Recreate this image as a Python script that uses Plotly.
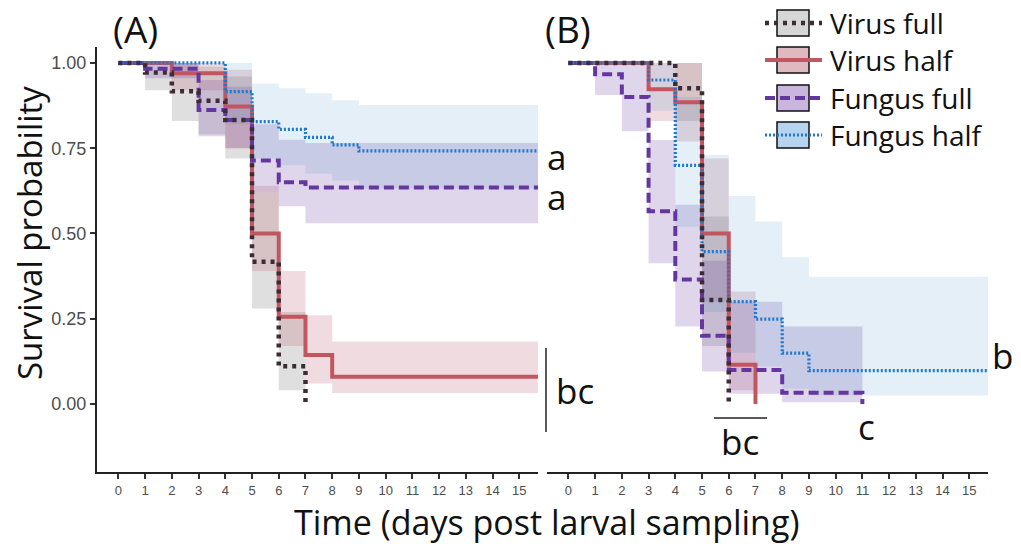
import plotly.graph_objects as go

# ---------------- data ----------------
DAYS = list(range(16))
Y_TICKS = [0, 0.25, 0.5, 0.75, 1.0]
Y_TICK_LABELS = ["0.00", "0.25", "0.50", "0.75", "1.00"]
X_MIN, X_MAX = -0.8, 15.7
Y_MIN, Y_MAX = -0.2, 1.048

GROUPS = ["Virus full", "Virus half", "Fungus full", "Fungus half"]

# Panel A
A_VF_T = [0, 1, 2, 3, 4, 5, 6]
A_VF_S = [1.0, 0.972, 0.917, 0.889, 0.833, 0.417, 0.111]
A_VF_LO = [1.0, 0.92, 0.83, 0.79, 0.72, 0.28, 0.04]
A_VF_HI = [1.0, 1.0, 1.0, 0.99, 0.96, 0.62, 0.27]
A_VF_END = 7

A_VH_T = [0, 2, 4, 5, 6, 7, 8]
A_VH_S = [1.0, 0.97, 0.872, 0.50, 0.256, 0.144, 0.08]
A_VH_LO = [1.0, 0.92, 0.75, 0.39, 0.17, 0.06, 0.032]
A_VH_HI = [1.0, 1.0, 0.98, 0.64, 0.39, 0.26, 0.183]
A_VH_END = None

A_FF_T = [0, 1, 3, 4, 5, 6, 7]
A_FF_S = [1.0, 0.983, 0.862, 0.833, 0.714, 0.65, 0.635]
A_FF_LO = [1.0, 0.955, 0.785, 0.75, 0.62, 0.58, 0.53]
A_FF_HI = [1.0, 1.0, 0.95, 0.93, 0.82, 0.775, 0.765]
A_FF_END = None

A_FH_T = [0, 4, 5, 6, 7, 8, 9]
A_FH_S = [1.0, 0.916, 0.828, 0.805, 0.782, 0.76, 0.742]
A_FH_LO = [1.0, 0.82, 0.72, 0.70, 0.675, 0.655, 0.632]
A_FH_HI = [1.0, 1.0, 0.94, 0.926, 0.911, 0.891, 0.877]
A_FH_END = None

# Panel B
B_VF_T = [0, 4, 5]
B_VF_S = [1.0, 0.926, 0.305]
B_VF_LO = [1.0, 0.83, 0.17]
B_VF_HI = [1.0, 1.0, 0.55]
B_VF_END = 6

B_VH_T = [0, 3, 4, 5, 6]
B_VH_S = [1.0, 0.923, 0.885, 0.50, 0.115]
B_VH_LO = [1.0, 0.83, 0.77, 0.30, 0.04]
B_VH_HI = [1.0, 1.0, 1.0, 0.72, 0.33]
B_VH_END = 7

B_FF_T = [0, 1, 2, 3, 4, 5, 6, 8]
B_FF_S = [1.0, 0.967, 0.90, 0.565, 0.365, 0.20, 0.10, 0.033]
B_FF_LO = [1.0, 0.906, 0.80, 0.413, 0.227, 0.095, 0.03, 0.005]
B_FF_HI = [1.0, 1.0, 1.0, 0.774, 0.584, 0.42, 0.30, 0.227]
B_FF_END = 11

B_FH_T = [0, 3, 4, 5, 6, 7, 8, 9]
B_FH_S = [1.0, 0.95, 0.70, 0.447, 0.30, 0.249, 0.149, 0.098]
B_FH_LO = [1.0, 0.86, 0.52, 0.27, 0.15, 0.11, 0.045, 0.025]
B_FH_HI = [1.0, 1.0, 0.90, 0.73, 0.61, 0.535, 0.43, 0.373]
B_FH_END = None

# significance letters
A_LETTERS = ["a", "a", "bc"]
B_LETTERS = ["b", "c", "bc"]

# ---------------- styles ----------------
LINE_COL = {
    "Virus full": "rgb(60,45,52)",
    "Virus half": "rgb(192,86,96)",
    "Fungus full": "rgb(100,55,160)",
    "Fungus half": "rgb(30,120,205)",
}
BAND_COL = {
    "Virus full": "rgba(100,95,97,0.20)",
    "Virus half": "rgba(180,80,100,0.20)",
    "Fungus full": "rgba(102,51,153,0.20)",
    "Fungus half": "rgba(30,120,200,0.12)",
}
LEG_FILL = {
    "Virus full": "#d6d6d6",
    "Virus half": "#e0b9c0",
    "Fungus full": "#c9b5dd",
    "Fungus half": "#b7d4ee",
}
DASH = {
    "Virus full": "4px,5px",
    "Virus half": "solid",
    "Fungus full": "10px,5px",
    "Fungus half": "2px,2px",
}
WIDTH = {"Virus full": 4.5, "Virus half": 4, "Fungus full": 4, "Fungus half": 3.2}

PANELS = {
    "A": {
        "Virus full": (A_VF_T, A_VF_S, A_VF_LO, A_VF_HI, A_VF_END),
        "Virus half": (A_VH_T, A_VH_S, A_VH_LO, A_VH_HI, A_VH_END),
        "Fungus full": (A_FF_T, A_FF_S, A_FF_LO, A_FF_HI, A_FF_END),
        "Fungus half": (A_FH_T, A_FH_S, A_FH_LO, A_FH_HI, A_FH_END),
    },
    "B": {
        "Virus full": (B_VF_T, B_VF_S, B_VF_LO, B_VF_HI, B_VF_END),
        "Virus half": (B_VH_T, B_VH_S, B_VH_LO, B_VH_HI, B_VH_END),
        "Fungus full": (B_FF_T, B_FF_S, B_FF_LO, B_FF_HI, B_FF_END),
        "Fungus half": (B_FH_T, B_FH_S, B_FH_LO, B_FH_HI, B_FH_END),
    },
}
AXES = {"A": ("x", "y"), "B": ("x2", "y2")}
DRAW_ORDER = ["Virus half", "Fungus full", "Fungus half", "Virus full"]

# page body offsets the figure by 8px; compensate
OFF = 8
W, H = 1021 - OFF, 544 - OFF


def px(x):
    return (x - OFF) / W


def py(y):
    return 1 - (y - OFF) / H


fig = go.Figure()

# bands
for p, series in PANELS.items():
    xa, ya = AXES[p]
    for g in GROUPS:
        T, S, LO, HI, END = series[g]
        end = END if END is not None else X_MAX
        xs = T + [end]
        fig.add_trace(go.Scatter(x=xs, y=HI + [HI[-1]], mode="lines", line=dict(width=0, shape="hv"),
                                 xaxis=xa, yaxis=ya, showlegend=False, hoverinfo="skip"))
        fig.add_trace(go.Scatter(x=xs, y=LO + [LO[-1]], mode="lines", line=dict(width=0, shape="hv"),
                                 fill="tonexty", fillcolor=BAND_COL[g],
                                 xaxis=xa, yaxis=ya, showlegend=False, hoverinfo="skip"))

# survival lines
for p, series in PANELS.items():
    xa, ya = AXES[p]
    for g in DRAW_ORDER:
        T, S, LO, HI, END = series[g]
        if END is not None:
            xs, ys = T + [END], S + [0.0]
        else:
            xs, ys = T + [X_MAX], S + [S[-1]]
        fig.add_trace(go.Scatter(x=xs, y=ys, mode="lines", name=g,
                                 line=dict(color=LINE_COL[g], width=WIDTH[g], dash=DASH[g], shape="hv"),
                                 xaxis=xa, yaxis=ya, showlegend=False))

XDOM_A = [px(97), px(538)]
XDOM_B = [px(547), px(988)]
YDOM = [py(472.2), py(46.6)]

tickfont = dict(family="Liberation Sans, Arial, sans-serif", size=13, color="#4d4d4d")
common_x = dict(range=[X_MIN, X_MAX], tickvals=DAYS, ticktext=[str(d) for d in DAYS],
                showline=True, linecolor="#222", linewidth=2, ticks="outside", ticklen=5,
                tickwidth=1.5, tickcolor="#333", showgrid=False, zeroline=False, tickfont=tickfont)

fig.update_layout(
    width=W, height=H, margin=dict(l=0, r=0, t=0, b=0),
    paper_bgcolor="white", plot_bgcolor="white", showlegend=False,
    xaxis=dict(domain=XDOM_A, anchor="y", **common_x),
    xaxis2=dict(domain=XDOM_B, anchor="y2", **common_x),
    yaxis=dict(domain=YDOM, anchor="x", range=[Y_MIN, Y_MAX], tickvals=Y_TICKS, ticktext=Y_TICK_LABELS,
               showline=True, linecolor="#222", linewidth=2, ticks="outside", ticklen=5, tickwidth=1.5,
               tickcolor="#333", showgrid=False, zeroline=False,
               tickfont=dict(family="Liberation Sans, Arial, sans-serif", size=18, color="#4d4d4d")),
    yaxis2=dict(domain=YDOM, anchor="x2", range=[Y_MIN, Y_MAX], showline=False, showticklabels=False,
                ticks="", showgrid=False, zeroline=False),
)

TFONT = "Open Sans, DejaVu Sans, sans-serif"


def note(x, y, text, size, xanchor="center", angle=0):
    return dict(x=px(x), y=py(y), xref="paper", yref="paper", text=text, textangle=angle,
                showarrow=False, xanchor=xanchor, yanchor="middle",
                font=dict(family=TFONT, size=size, color="#111"))


ann = []
ann.append(note(29, 233, "Survival probability", 33, angle=-90))
ann.append(note(546, 522, "Time (days post larval sampling)", 34))
ann.append(note(135, 28, "(A)", 37))
ann.append(note(568, 28, "(B)", 37))

# significance letters
LET_POS_A = [(556, 156), (556, 196), (575, 390)]
LET_POS_B = [(1002, 355), (866, 426), (740, 441)]
for t, (lx, ly) in zip(A_LETTERS + B_LETTERS, LET_POS_A + LET_POS_B):
    ann.append(note(lx, ly, t, 35))

shapes = []
shapes.append(dict(type="line", xref="paper", yref="paper", x0=px(546), x1=px(546), y0=py(348), y1=py(432),
                   line=dict(color="#222", width=1.5)))
shapes.append(dict(type="line", xref="paper", yref="paper", x0=px(714), x1=px(767), y0=py(418), y1=py(418),
                   line=dict(color="#222", width=1.5)))

# legend (drawn)
LEG_ROWS = [23, 60, 98, 135]
for g, cy in zip(GROUPS, LEG_ROWS):
    shapes.append(dict(type="rect", xref="paper", yref="paper", x0=px(777), x1=px(809),
                       y0=py(cy + 13), y1=py(cy - 13), fillcolor=LEG_FILL[g],
                       line=dict(color="#111", width=1.5)))
    shapes.append(dict(type="line", xref="paper", yref="paper", x0=px(765), x1=px(822),
                       y0=py(cy), y1=py(cy),
                       line=dict(color=LINE_COL[g], width=WIDTH[g], dash=DASH[g])))
    ann.append(note(828, cy, g, 28, xanchor="left"))

fig.update_layout(annotations=ann, shapes=shapes)
fig.write_html("out.html")
